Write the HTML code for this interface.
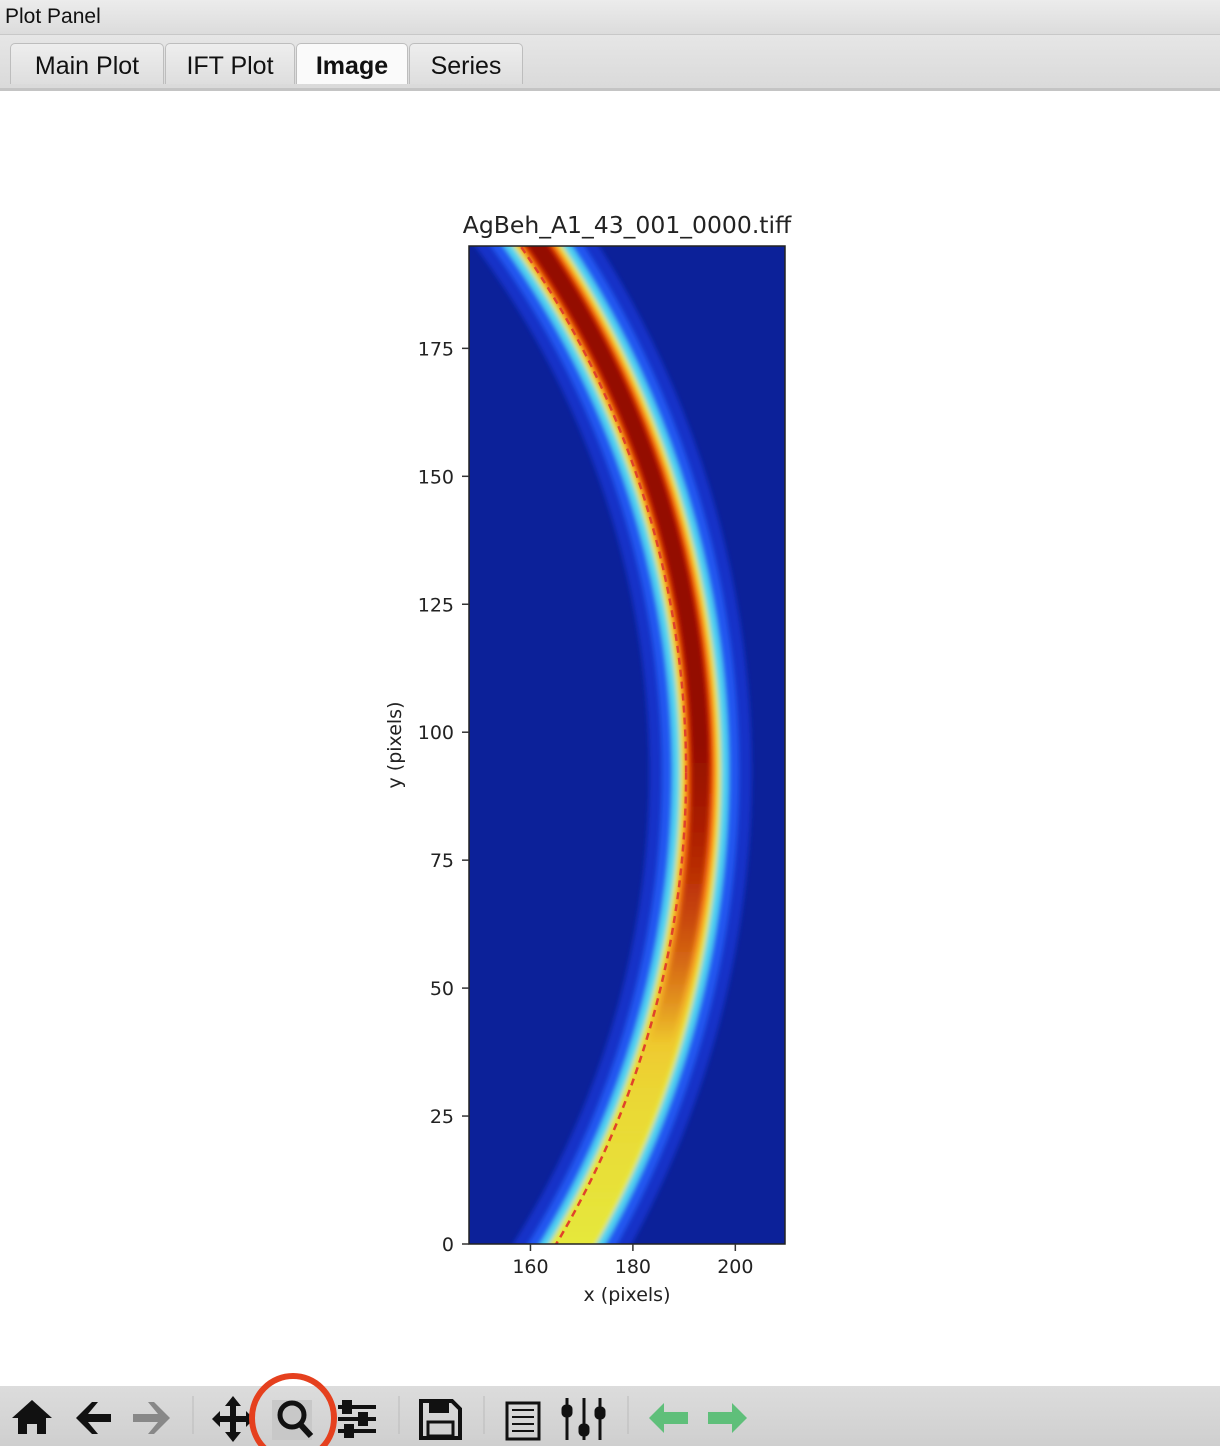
<!DOCTYPE html>
<html><head><meta charset="utf-8">
<style>
body{margin:0;width:1220px;height:1446px;background:#fff;font-family:"Liberation Sans",sans-serif;position:relative;overflow:hidden}
#title{position:absolute;left:0;top:0;width:1220px;height:34px;background:linear-gradient(#ececec,#dcdcdc);border-bottom:1px solid #c8c8c8}
#title span{position:absolute;left:5px;top:5px;font-size:21px;color:#111}
#tabbar{position:absolute;left:0;top:35px;width:1220px;height:53px;background:linear-gradient(#e6e6e6,#dadada);border-bottom:3px solid #c4c4c4}
.tab{position:absolute;top:8px;height:41px;border:1px solid #bdbdbd;border-bottom:none;border-radius:5px 5px 0 0;background:linear-gradient(#eeeeee,#dedede);font-size:25px;color:#111;text-align:center;line-height:44px;box-sizing:border-box}
.tab.sel{background:#fafafa;font-weight:bold}
#toolbar{position:absolute;left:0;top:1386px;width:1220px;height:60px;background:linear-gradient(#dcdcdc,#cfcfcf)}
</style></head><body>
<div id="title"><span>Plot Panel</span></div>
<div id="tabbar">
<div class="tab" style="left:10px;width:154px">Main Plot</div>
<div class="tab" style="left:165px;width:130px">IFT Plot</div>
<div class="tab sel" style="left:296px;width:112px">Image</div>
<div class="tab" style="left:409px;width:114px">Series</div>
</div>
<svg id="chart" width="1220" height="1380" style="position:absolute;left:0;top:0" font-family="DejaVu Sans, Liberation Sans, sans-serif">
<defs>
<clipPath id="clip"><rect x="469" y="246" width="316" height="998"/></clipPath>
<filter id="blur" x="-20%" y="-20%" width="140%" height="140%"><feGaussianBlur stdDeviation="2.5"/></filter>
<linearGradient id="fadeG" x1="0" y1="246" x2="0" y2="1244" gradientUnits="userSpaceOnUse">
<stop offset="0" stop-color="#fff" stop-opacity="1"/><stop offset="0.5" stop-color="#fff" stop-opacity="1"/><stop offset="0.68" stop-color="#fff" stop-opacity="0.4"/><stop offset="0.8" stop-color="#fff" stop-opacity="0"/><stop offset="1" stop-color="#fff" stop-opacity="0"/>
</linearGradient>
<linearGradient id="fadeG2" x1="0" y1="246" x2="0" y2="1244" gradientUnits="userSpaceOnUse">
<stop offset="0" stop-color="#fff" stop-opacity="1"/><stop offset="0.6" stop-color="#fff" stop-opacity="1"/><stop offset="0.85" stop-color="#fff" stop-opacity="0.2"/><stop offset="1" stop-color="#fff" stop-opacity="0"/>
</linearGradient>
<mask id="fade"><rect x="0" y="0" width="1220" height="1380" fill="url(#fadeG)"/></mask>
<mask id="fade2"><rect x="0" y="0" width="1220" height="1380" fill="url(#fadeG2)"/></mask>
</defs>
<text x="627" y="233" text-anchor="middle" font-size="23.5" fill="#222">AgBeh_A1_43_001_0000.tiff</text>
<g id="img" clip-path="url(#clip)">
<rect x="469" y="246" width="316" height="998" fill="#0c2199"/>
</g>
<g id="axes"></g>
</svg>
<div id="toolbar">
<svg width="1220" height="60" style="position:absolute;left:0;top:0;overflow:visible">
<g><path d="M12 32 L32 14 L52 32 L46 32 L46 48 L37 48 L37 38 L27 38 L27 48 L18 48 L18 32 Z" fill="#111"/></g>
<g><path d="M76 32 L92 16 L98 16 L88 28 L111 28 L111 36 L88 36 L98 48 L92 48 Z" fill="#111"/></g>
<g><path d="M170 32 L154 16 L148 16 L158 28 L133 28 L133 36 L158 36 L148 48 L154 48 Z" fill="#888"/></g>
<line x1="193" y1="10" x2="193" y2="48" stroke="#bbb"/>
<g><path d="M233 10 L241 20 L236 20 L236 30 L246 30 L246 25 L254 33 L246 41 L246 36 L236 36 L236 46 L241 46 L233 56 L225 46 L230 46 L230 36 L220 36 L220 41 L212 33 L220 25 L220 30 L230 30 L230 20 L225 20 Z" fill="#111"/></g>
<rect x="272" y="14" width="40" height="40" fill="#c8c8c8"/>
<g><circle cx="292" cy="29" r="12" fill="none" stroke="#111" stroke-width="5"/><line x1="300" y1="38" x2="311" y2="50" stroke="#111" stroke-width="6"/></g>
<ellipse cx="293" cy="32" rx="41" ry="42" fill="none" stroke="#e5401e" stroke-width="6"/>
<g stroke="#111" stroke-width="4"><line x1="338" y1="21" x2="376" y2="21"/><line x1="338" y1="33" x2="376" y2="33"/><line x1="338" y1="45" x2="376" y2="45"/><rect x="344" y="16" width="6" height="10" fill="#111"/><rect x="360" y="28" width="6" height="10" fill="#111"/><rect x="346" y="40" width="6" height="10" fill="#111"/></g>
<line x1="399" y1="10" x2="399" y2="48" stroke="#bbb"/>
<g><path d="M421 15 L452 15 L460 23 L460 52 L421 52 Z" fill="none" stroke="#111" stroke-width="4"/><rect x="429" y="15" width="20" height="12" fill="#111"/><rect x="428" y="36" width="25" height="14" fill="none" stroke="#111" stroke-width="3"/></g>
<line x1="484" y1="10" x2="484" y2="48" stroke="#bbb"/>
<g><rect x="507" y="17" width="32" height="36" fill="none" stroke="#111" stroke-width="3"/><g stroke="#111" stroke-width="2"><line x1="512" y1="24" x2="534" y2="24"/><line x1="512" y1="31" x2="534" y2="31"/><line x1="512" y1="38" x2="534" y2="38"/><line x1="512" y1="45" x2="534" y2="45"/></g></g>
<g stroke="#111" stroke-width="3"><line x1="567" y1="12" x2="567" y2="54"/><line x1="584" y1="12" x2="584" y2="54"/><line x1="600" y1="12" x2="600" y2="54"/><rect x="563" y="20" width="8" height="10" rx="3" fill="#111"/><rect x="580" y="39" width="8" height="10" rx="3" fill="#111"/><rect x="596" y="22" width="8" height="10" rx="3" fill="#111"/></g>
<line x1="628" y1="10" x2="628" y2="48" stroke="#bbb"/>
<g><path d="M649 32 L664 17 L664 26 L688 26 L688 38 L664 38 L664 47 Z" fill="#5fbf7a"/></g>
<g><path d="M747 32 L732 17 L732 26 L708 26 L708 38 L732 38 L732 47 Z" fill="#5fbf7a"/></g>
</svg>
</div>
<script>
const xTicks=[160,180,200];
const yTicks=[0,25,50,75,100,125,150,175];
const xRange=[148,209.7];
const yRange=[0,195];
const ringCenter=[10.8,92.1];
const ringRadius=[179.6];
const peakOffset=[2.8];
const bandHalfWidths=[10,7.5,5.5,4,3.2,2.5,1.8];
const bandColors=['#1532c8','#2456f0','#50d2f0','#e6e83c','#ff9418','#e02804','#941000'];
const NS='http://www.w3.org/2000/svg';
const L=469,R=785,T=246,B=1244;
function sx(v){return L+(v-xRange[0])/(xRange[1]-xRange[0])*(R-L);}
function sy(v){return B-(v-yRange[0])/(yRange[1]-yRange[0])*(B-T);}
const k=(R-L)/(xRange[1]-xRange[0]);
const img=document.getElementById('img');
const cx=sx(ringCenter[0]),cy=sy(ringCenter[1]);
const blurG=document.createElementNS(NS,'g');blurG.setAttribute('filter','url(#blur)');img.appendChild(blurG);
bandColors.forEach((c,i)=>{
 const e=document.createElementNS(NS,'circle');
 
 
 e.setAttribute('cx',cx);e.setAttribute('cy',cy);
 e.setAttribute('r',(ringRadius[0]+peakOffset[0])*k);
 e.setAttribute('fill','none');e.setAttribute('stroke',c);
 e.setAttribute('stroke-width',2*bandHalfWidths[i]*k);
 if(i==4)e.setAttribute('mask','url(#fade2)');
 if(i>=5)e.setAttribute('mask','url(#fade)');
 blurG.appendChild(e);
});
const d=document.createElementNS(NS,'circle');


d.setAttribute('cx',cx);d.setAttribute('cy',cy);d.setAttribute('r',ringRadius[0]*k);
d.setAttribute('fill','none');d.setAttribute('stroke','#e0422a');d.setAttribute('stroke-width','2.5');d.setAttribute('stroke-dasharray','7 5');
img.appendChild(d);
const ax=document.getElementById('axes');
const fr=document.createElementNS(NS,'rect');


fr.setAttribute('x',L);fr.setAttribute('y',T);fr.setAttribute('width',R-L);fr.setAttribute('height',B-T);fr.setAttribute('fill','none');fr.setAttribute('stroke','#222');fr.setAttribute('stroke-width','1.5');
ax.appendChild(fr);
xTicks.forEach(v=>{
 const l=document.createElementNS(NS,'line');
 
 
 l.setAttribute('x1',sx(v));l.setAttribute('x2',sx(v));l.setAttribute('y1',B);l.setAttribute('y2',B+7);l.setAttribute('stroke','#333');l.setAttribute('stroke-width','1.5');ax.appendChild(l);
 const t=document.createElementNS(NS,'text');
 
 
 t.setAttribute('x',sx(v));t.setAttribute('y',B+29);t.setAttribute('text-anchor','middle');t.setAttribute('font-size','19');t.setAttribute('fill','#222');t.textContent=v;ax.appendChild(t);
});
yTicks.forEach(v=>{
 const l=document.createElementNS(NS,'line');
 
 
 l.setAttribute('x1',L-7);l.setAttribute('x2',L);l.setAttribute('y1',sy(v));l.setAttribute('y2',sy(v));l.setAttribute('stroke','#333');l.setAttribute('stroke-width','1.5');ax.appendChild(l);
 const t=document.createElementNS(NS,'text');
 
 
 t.setAttribute('x',L-15);t.setAttribute('y',sy(v)+7);t.setAttribute('text-anchor','end');t.setAttribute('font-size','19');t.setAttribute('fill','#222');t.textContent=v;ax.appendChild(t);
});
const xl=document.createElementNS(NS,'text');


xl.setAttribute('x',(L+R)/2);xl.setAttribute('y',B+57);xl.setAttribute('text-anchor','middle');xl.setAttribute('font-size','19');xl.setAttribute('fill','#222');xl.textContent='x (pixels)';ax.appendChild(xl);
const yl=document.createElementNS(NS,'text');


yl.setAttribute('transform','translate(401,'+((T+B)/2)+') rotate(-90)');yl.setAttribute('text-anchor','middle');yl.setAttribute('font-size','19');yl.setAttribute('fill','#222');yl.textContent='y (pixels)';ax.appendChild(yl);
</script>
</body></html>
